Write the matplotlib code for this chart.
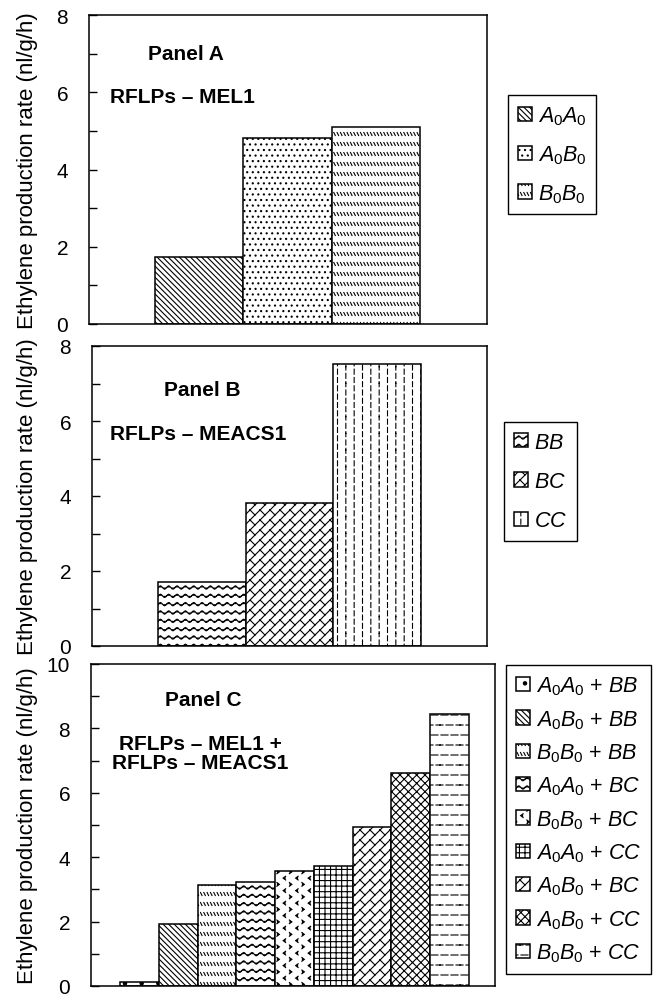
import warnings
import numpy as np
import matplotlib
matplotlib.use("Agg")
import matplotlib.pyplot as plt
import matplotlib.hatch as mhatch
from matplotlib.path import Path
from matplotlib.ticker import MultipleLocator

warnings.filterwarnings("ignore")

plt.rcParams['font.family'] = ['Liberation Sans', 'DejaVu Sans']
plt.rcParams['mathtext.fontset'] = 'custom'
plt.rcParams['mathtext.rm'] = 'Liberation Sans'
plt.rcParams['mathtext.it'] = 'Liberation Sans:italic'
plt.rcParams['hatch.linewidth'] = 0.8

# ---- data ----
a_labels = [r'$A_\mathit{0}A_\mathit{0}$', r'$A_\mathit{0}B_\mathit{0}$',
            r'$B_\mathit{0}B_\mathit{0}$']
a_values = [1.74, 4.82, 5.10]

b_labels = [r'$BB$', r'$BC$', r'$CC$']
b_values = [1.72, 3.81, 7.52]

c_labels = [r'$A_\mathit{0}A_\mathit{0}$ + $BB$', r'$A_\mathit{0}B_\mathit{0}$ + $BB$',
            r'$B_\mathit{0}B_\mathit{0}$ + $BB$', r'$A_\mathit{0}A_\mathit{0}$ + $BC$',
            r'$B_\mathit{0}B_\mathit{0}$ + $BC$', r'$A_\mathit{0}A_\mathit{0}$ + $CC$',
            r'$A_\mathit{0}B_\mathit{0}$ + $BC$', r'$A_\mathit{0}B_\mathit{0}$ + $CC$',
            r'$B_\mathit{0}B_\mathit{0}$ + $CC$']
c_values = [0.12, 1.92, 3.14, 3.24, 3.58, 3.72, 4.93, 6.63, 8.46]

ylabel = 'Ethylene production rate (nl/g/h)'


# ---- extra hatch patterns (wavy, brick, dashes ...) ----
wave_x = np.linspace(0, 1, 9)
CELLS = {
    'w': (12, [list(zip(wave_x, 0.5 + 0.2 * np.sin(2 * np.pi * wave_x)))]),
    'b': (10, [[(0, 0), (1, 1)], [(0.5, 0.5), (0, 1)]]),
    ':': (6, [[(0.25, 0.05), (0.25, 0.35)], [(0.25, 0.55), (0.25, 0.85)],
              [(0.75, 0.3), (0.75, 0.6)], [(0.75, 0.8), (0.75, 1.0)],
              [(0.75, 0.0), (0.75, 0.1)]]),
    '_': (5, [[(0.05, 0.25), (0.4, 0.25)], [(0.55, 0.25), (0.9, 0.25)],
              [(0.3, 0.75), (0.65, 0.75)], [(0.8, 0.75), (1.0, 0.75)],
              [(0.0, 0.75), (0.15, 0.75)]]),
    '>': (8, [[(0.15, 0.1), (0.35, 0.25), (0.15, 0.4)],
              [(0.85, 0.6), (0.65, 0.75), (0.85, 0.9)]]),
    's': (10, [[(0.05, 0.75), (0.2, 0.45)], [(0.38, 0.75), (0.53, 0.45)],
               [(0.71, 0.75), (0.86, 0.45)]]),
}


class CellHatch:
    def __init__(self, hatch, density):
        self.cells = []
        for ch, (n, lines) in CELLS.items():
            k = hatch.count(ch)
            if k:
                self.cells.append((n * k, lines))
        self.num_vertices = sum(n * n * sum(len(l) for l in lines)
                                for n, lines in self.cells)

    def set_vertices_and_codes(self, vertices, codes):
        i = 0
        for n, lines in self.cells:
            for r in range(n):
                for c in range(n):
                    for line in lines:
                        for j, (x, y) in enumerate(line):
                            vertices[i] = ((c + x) / n, (r + y) / n)
                            codes[i] = Path.MOVETO if j == 0 else Path.LINETO
                            i += 1


mhatch._hatch_types.append(CellHatch)

a_hatches = ['\\\\\\\\\\\\', '...', 's']
b_hatches = ['w', 'b', ':']
c_hatches = ['.', '\\\\\\\\\\\\', 's', 'w', '>', '+++', 'b', 'xxxx', '_']

W, H = 667, 995
fig = plt.figure(figsize=(W / 100, H / 100), dpi=100)


def box(l, t, r, b):
    return [l / W, 1 - b / H, (r - l) / W, (b - t) / H]


def panel(rect, values, labels, hatches, ymax, xmax, leg_xy, spacing):
    ax = fig.add_axes(rect)
    x = np.arange(len(values))
    bars = ax.bar(x, values, width=1.0, color='white', edgecolor='black',
                  linewidth=1.1)
    for bar, h, lab in zip(bars, hatches, labels):
        bar.set_hatch(h)
        bar.set_label(lab)
    ax.set_xlim(-1.25, xmax)
    ax.set_ylim(0, ymax)
    ax.set_xticks([])
    ax.yaxis.set_major_locator(MultipleLocator(2))
    ax.yaxis.set_minor_locator(MultipleLocator(1))
    ax.tick_params(axis='y', which='both', direction='in', length=6,
                   width=1, labelsize=15, pad=15)
    for s in ax.spines.values():
        s.set_linewidth(1.1)
    ax.set_ylabel(ylabel, fontsize=16)
    ax_w = rect[2] * W
    ax.yaxis.set_label_coords((38 - rect[0] * W) / ax_w, 0.5)
    ax.legend(handles=list(bars), loc='upper left',
              bbox_to_anchor=(leg_xy[0] / W, 1 - leg_xy[1] / H),
              bbox_transform=fig.transFigure, borderaxespad=0,
              fontsize=15.5, handlelength=0.65, handleheight=0.65,
              handletextpad=0.3, labelspacing=spacing, borderpad=0.45,
              fancybox=False, edgecolor='black', framealpha=1)
    ax.get_legend().get_frame().set_linewidth(1.0)
    return ax


panel(box(89, 16, 487, 325), a_values, a_labels, a_hatches, 8, 3.26,
      (508, 96), 0.75)
panel(box(92, 347, 487, 647), b_values, b_labels, b_hatches, 8, 3.25,
      (504, 423), 0.85)
panel(box(91, 665, 495, 987), c_values, c_labels, c_hatches, 10, 9.17,
      (506, 666), 0.5)

bold = dict(fontsize=15, fontweight='bold')
fig.text(186 / W, 1 - 55 / H, 'Panel A', ha='center', va='center', **bold)
fig.text(110 / W, 1 - 98 / H, 'RFLPs \u2013 MEL1', ha='left', va='center', **bold)
fig.text(202 / W, 1 - 391 / H, 'Panel B', ha='center', va='center', **bold)
fig.text(110 / W, 1 - 435 / H, 'RFLPs \u2013 MEACS1', ha='left', va='center', **bold)
fig.text(203 / W, 1 - 700 / H, 'Panel C', ha='center', va='center', **bold)
fig.text(200 / W, 1 - 754 / H, 'RFLPs \u2013 MEL1 +\nRFLPs \u2013 MEACS1',
         ha='center', va='center', linespacing=1.0, **bold)

fig.savefig('out.png', dpi=100)
